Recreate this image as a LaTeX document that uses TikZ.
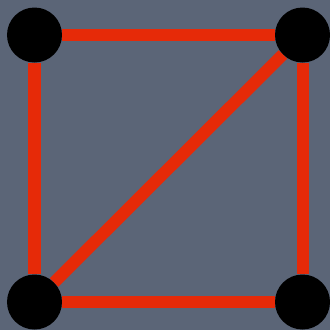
\documentclass[tikz,border=0pt]{standalone}
\definecolor{slate}{HTML}{5B6577}
\definecolor{edgered}{HTML}{E62A08}
\tikzset{
  vertex/.style={circle, fill=black, inner sep=0pt, minimum size=1.65cm},
  link/.style={edgered, line width=0.36cm}
}
\begin{document}
\begin{tikzpicture}[x=0.03cm, y=-0.03cm]
		% Background
		\fill[slate] (0,0) rectangle (330,330);
		\useasboundingbox (0,0) rectangle (330,330);
		
		% Corners
		\node[vertex] (tl) at (34.5,35) {};
		\node[vertex] (tr) at (302.5,35) {};
		\node[vertex] (bl) at (34.5,302) {};
		\node[vertex] (br) at (302.5,302) {};
		
		% Sides and diagonal
		\draw[link] (tl) -- (tr);
		\draw[link] (tr) -- (br);
		\draw[link] (br) -- (bl);
		\draw[link] (bl) -- (tl);
		\draw[link] (bl) -- (tr);
	\end{tikzpicture}
\end{document}
